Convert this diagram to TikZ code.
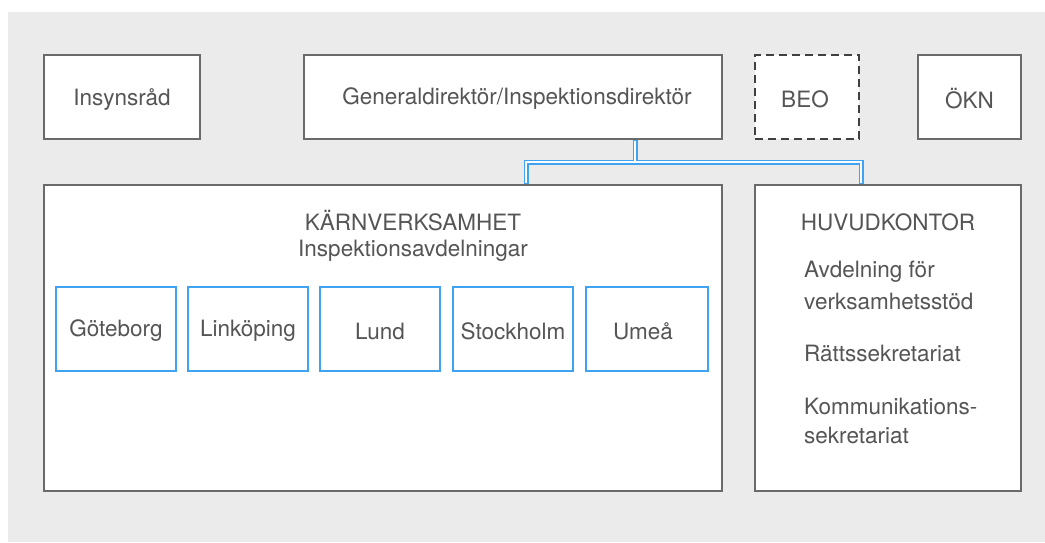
\documentclass[tikz,border=0pt]{standalone}
\usepackage{fontspec}
\setmainfont{TeX Gyre Heros}
\begin{document}
\begin{tikzpicture}[x=1pt,y=-1pt,
  box/.style={draw=boxgray, line width=1.4pt, fill=white, inner sep=0pt, anchor=center},
  city/.style={draw=cityblue, line width=1.3pt, fill=white, minimum width=120pt, minimum height=84pt, inner sep=0pt},
  txt/.style={text=txtgray, font=\fontsize{22.5}{29}\selectfont, inner sep=0pt},
  connout/.style={draw=cityblue, line width=5pt},
  connin/.style={draw=white, line width=2pt}]
\definecolor{boxgray}{HTML}{6A6A6A}
\definecolor{txtgray}{HTML}{555555}
\definecolor{cityblue}{HTML}{3FA3F2}
\definecolor{bggray}{HTML}{EBEBEB}
\path[use as bounding box] (0,0) rectangle (1045,542);
\fill[white] (0,0) rectangle (1045,542);
\fill[bggray] (8,12) rectangle (1045,542);
% top row
\node[box, minimum width=156pt, minimum height=84pt] (ins) at (122,97) {};
\node[txt] (inst) at (122,99) {Insynsråd};
\node[box, minimum width=418pt, minimum height=84pt] (gd) at (513,97) {};
\node[txt] (gdt) at (517,99) {Generaldirektör/Inspektionsdirektör};
\node[box, draw=black!75, dash pattern=on 8pt off 5pt, minimum width=104pt, minimum height=84pt] (beo) at (807,97) {};
\node[txt] (beot) at (805,99) {BEO};
\node[box, minimum width=103pt, minimum height=84pt] (okn) at (969.5,97) {};
\node[txt] (oknt) at (969.5,99) {ÖKN};
% big boxes
\node[box, minimum width=678pt, minimum height=306pt] (kv) at (383,338) {};
\node[box, minimum width=266pt, minimum height=306pt] (hk) at (888,338) {};
\node[txt] (kvt) at (413,221) {KÄRNVERKSAMHET};
\node[txt] (kvs) at (413,251) {Inspektionsavdelningar};
\node[txt] (hkt) at (888,222) {HUVUDKONTOR};
\node[txt, anchor=west] (hk1a) at (804,272) {Avdelning för};
\node[txt, anchor=west] (hk1b) at (804,301) {verksamhetsstöd};
\node[txt, anchor=west] (hk2) at (804,353) {Rättssekretariat};
\node[txt, anchor=west] (hk3a) at (804,406) {Kommunikations-};
\node[txt, anchor=west] (hk3b) at (804,435) {sekretariat};
% cities
\node[city] (c1) at (116,329) {};
\node[txt] at (116,331) {Göteborg};
\node[city] (c2) at (248,329) {};
\node[txt] at (248,331) {Linköping};
\node[city] (c3) at (380,329) {};
\node[txt] at (380,331) {Lund};
\node[city] (c4) at (513,329) {};
\node[txt] at (513,331) {Stockholm};
\node[city, minimum width=122pt] (c5) at (647,329) {};
\node[txt] at (643,331) {Umeå};
% connector
\coordinate (j) at (635,162);
\coordinate (jl) at (526,162);
\coordinate (jr) at (861,162);
\draw[connout] (gd.south -| j) -- (j);
\draw[connout] (kv.north -| jl) -- (jl) -- (jr) -- (hk.north -| jr);
\draw[connin] ([yshift=-1pt]gd.south -| j) -- (j);
\draw[connin] ([yshift=1pt]kv.north -| jl) -- (jl) -- (jr) -- ([yshift=1pt]hk.north -| jr);
\end{tikzpicture}
\end{document}
